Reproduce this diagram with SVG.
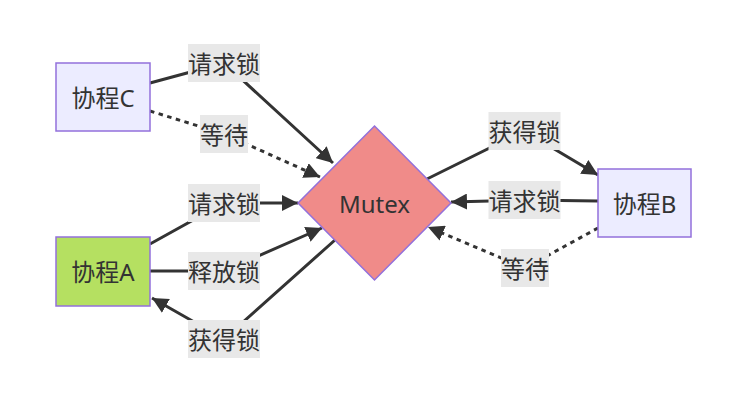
<svg xmlns="http://www.w3.org/2000/svg" width="747" height="411" viewBox="0 0 747 411">
<defs>
<style>
.node{stroke:#9370DB;stroke-width:1.5}
.purple{fill:#ECECFF}
.green{fill:#B5E061}
.red{fill:#F08B89}
.edge{fill:none;stroke:#333;stroke-width:3;marker-end:url(#arr)}
.dot{stroke-dasharray:4.5 4.5}
.lbl{fill:#E8E8E8}
text{font-family:"Noto Sans","Noto Sans CJK SC",sans-serif;font-size:24px;fill:#333;text-anchor:middle;dominant-baseline:central}
</style>
<marker id="arr" viewBox="0 0 10 10" refX="10" refY="5" markerWidth="16" markerHeight="16" markerUnits="userSpaceOnUse" orient="auto">
<path d="M0,0 L10,5 L0,10 z" fill="#333"/>
</marker>
</defs>
<rect width="747" height="411" fill="#fff"/>
<g id="connectors">
<path class="edge" d="M150,83 L224,63 L333,163"/>
<path class="edge dot" d="M150,111 L224,134 L320,177"/>
<path class="edge" d="M150,244 L224,203 L298,203"/>
<path class="edge" d="M150,271 L224,271 L322,228"/>
<path class="edge" d="M335,240 L224,339 L152,298"/>
<path class="edge" d="M427,179 L524,131 L598,175"/>
<path class="edge" d="M598,201 L524,200 L451,202"/>
<path class="edge dot" d="M598,228 L525,268 L428,227"/>
</g>
<g id="edge-labels">
<rect class="lbl" x="188" y="44" width="72" height="38"/><text x="224" y="63">请求锁</text>
<rect class="lbl" x="200" y="115" width="48" height="38"/><text x="224" y="134">等待</text>
<rect class="lbl" x="188" y="184" width="72" height="38"/><text x="224" y="203">请求锁</text>
<rect class="lbl" x="188" y="252" width="72" height="38"/><text x="224" y="271">释放锁</text>
<rect class="lbl" x="188" y="320" width="72" height="38"/><text x="224" y="339">获得锁</text>
<rect class="lbl" x="488.5" y="112" width="72" height="38"/><text x="524.5" y="131">获得锁</text>
<rect class="lbl" x="488.5" y="181" width="72" height="38"/><text x="524.5" y="200">请求锁</text>
<rect class="lbl" x="501" y="249" width="48" height="38"/><text x="525" y="268">等待</text>
</g>
<g id="node-C"><rect class="node purple" x="56" y="63" width="94" height="68"/><text x="103" y="97">协程C</text></g>
<g id="node-A"><rect class="node green" x="56" y="237" width="94" height="69"/><text x="103" y="271.5">协程A</text></g>
<g id="node-B"><rect class="node purple" x="598" y="169" width="93" height="68"/><text x="644.5" y="203">协程B</text></g>
<g id="node-Mutex"><polygon class="node red" points="374.5,126 451,203 374.5,280 298,203"/><text x="374.5" y="203">Mutex</text></g>
</svg>
